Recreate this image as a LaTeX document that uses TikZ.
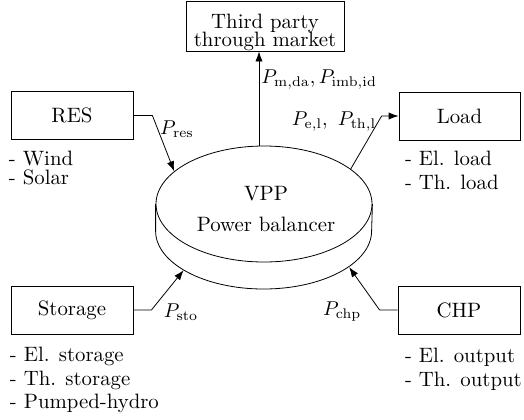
\documentclass[tikz,border=0pt]{standalone}
\usepackage{amsmath}
\usetikzlibrary{shapes.geometric, arrows.meta, positioning, calc}

\begin{document}
\begin{tikzpicture}[
    x=0.5pt, y=-0.5pt,
    every node/.style={font=\fontsize{10.4}{11.7}\selectfont},
    block/.style={
        rectangle, draw, line width=0.4pt,
        minimum width=61pt, minimum height=24pt, inner sep=0pt
    },
    %% the flat disc is drawn as two ellipses of the same size
    disc/.style={
        ellipse, minimum width=108pt, minimum height=58pt, inner sep=0pt
    },
    items/.style={anchor=north west, align=left, inner sep=0pt},
    arrow/.style={
        -{Latex[length=5pt, width=3.6pt]},
        line width=0.4pt
    },
    lbl/.style={inner sep=1pt}
]
\useasboundingbox (0,0) rectangle (524,419);

%% ── Power balancer ───────────────────────────────────────────────────────────
\node[disc, draw] (vpp)     at (264,204) {};
\node[disc]       (vppbase) at (264,231) {};
\draw (vpp.west) -- (vppbase.west)
      arc[start angle=180, end angle=360, x radius=54pt, y radius=29pt]
      -- (vpp.east);
\node[align=center] (vpplbl) at (266,209) {VPP\\[4pt]Power balancer};

%% ── Blocks ───────────────────────────────────────────────────────────────────
\node[block, minimum width=79pt, align=center] (market) at (265,26)
     {\rule{0pt}{14pt}Third party\\[-2.8pt]through market};
\node[block]                       (res)     at (72,115.5)  {RES};
\node[block, minimum width=60.5pt] (load)    at (459.5,116) {Load};
\node[block]                       (storage) at (72,310)    {Storage};
\node[block]                       (chp)     at (459,310)   {CHP};

%% ── Lists under the blocks ───────────────────────────────────────────────────
\node[items, below right=5.5pt and -1pt of res.south west]      (reslist)
     {- Wind\\[-2.5pt]- Solar};
\node[items, below right=5.3pt and 3pt of load.south west]      (loadlist)
     {- El. load\\- Th. load};
\node[items, below right=6.3pt and -0.5pt of storage.south west] (stolist)
     {- El. storage\\- Th. storage\\- Pumped-hydro};
\node[items, below right=6.8pt and 3.5pt of chp.south west]     (chplist)
     {- El. output\\- Th. output};

%% ── Arrows ───────────────────────────────────────────────────────────────────
\draw[arrow] ([xshift=-2.5pt]vpp.north)
     -- node[lbl, right, pos=0.7] {$P_{\mathrm{m,da}}, P_{\mathrm{imb,id}}$}
        ([xshift=-2.5pt]vpp.north |- market.south);
\draw[arrow] (res.east) -- ([xshift=9.5pt]res.east)
     -- node[lbl, right, pos=0.25] {$P_{\mathrm{res}}$} (vpp.160);
\draw[arrow] (vpp.22)
     -- node[lbl, left, pos=0.9] {$P_{\mathrm{e,l}},\ P_{\mathrm{th,l}}$}
        ([xshift=-8.5pt]load.west) -- (load.west);
\draw[arrow] (storage.east) -- ([xshift=9pt]storage.east)
     node[lbl, right, xshift=5pt, yshift=-1pt] {$P_{\mathrm{sto}}$} -- (vppbase.206);
\draw[arrow] (chp.west) -- ([xshift=-9pt]chp.west)
     node[lbl, left, xshift=-8pt, yshift=-1pt] {$P_{\mathrm{chp}}$} -- (vppbase.337);

\end{tikzpicture}
\end{document}
